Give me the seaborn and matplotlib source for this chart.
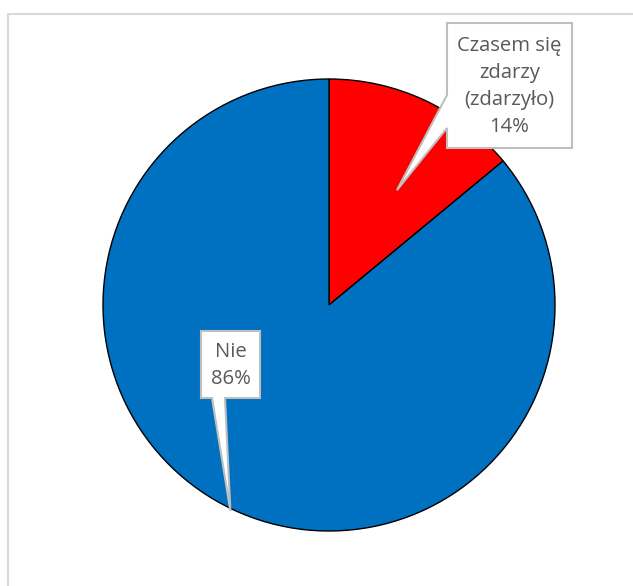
import numpy as np
import matplotlib
matplotlib.use("Agg")
import matplotlib.pyplot as plt
from matplotlib.patches import Polygon
from matplotlib.lines import Line2D
import seaborn as sns

# data
labels = ["Czasem się\nzdarzy\n(zdarzyło)", "Nie"]
values = [14, 86]
colors = ["#FF0000", "#0070C0"]

# callout layout (pixel coords of box centre, box size, pointer tip radius / angle shift)
box_centres = [(509.5, 85.5), (230.5, 364.5)]
box_sizes = [(125, 125), (59, 67)]
tip_radius = [0.59, 1.01]
tip_shift = [-5.4, -0.4]

sns.set_theme(style="white")
plt.rcParams["font.family"] = ["Open Sans", "DejaVu Sans"]

W, H = 633, 586
cx, cy, R = 329, 305, 226
fig = plt.figure(figsize=(W / 100, H / 100), dpi=100)
ax = fig.add_axes([0, 0, 1, 1])


def px(x, y):
    # pixel -> data (pie radius = 1)
    return ((x - cx) / R, (cy - y) / R)


wedges, _ = ax.pie(values, colors=colors, startangle=90, counterclock=False,
                   radius=1, wedgeprops=dict(edgecolor="black", linewidth=1.0))
ax.set_aspect("auto")
ax.set_xlim(-cx / R, (W - cx) / R)
ax.set_ylim((cy - H) / R, cy / R)
ax.axis("off")

# chart border (top + left visible)
fig.add_artist(Line2D([8 / W, 8 / W], [0, 1 - 14 / H], transform=fig.transFigure,
                      color="#D9D9D9", lw=1.5))
fig.add_artist(Line2D([8 / W, 1], [1 - 14 / H, 1 - 14 / H], transform=fig.transFigure,
                      color="#D9D9D9", lw=1.5))

total = sum(values)
for i, w in enumerate(wedges):
    mid = np.deg2rad((w.theta1 + w.theta2) / 2 + tip_shift[i])
    tip = (tip_radius[i] * np.cos(mid), tip_radius[i] * np.sin(mid))
    bx, by = box_centres[i]
    bw, bh = box_sizes[i]
    l, r, t, b = bx - bw / 2, bx + bw / 2, by - bh / 2, by + bh / 2
    if i == 0:
        # pointer out of the left edge
        pts = [px(l, t), px(r, t), px(r, b), px(l, b), px(l, b - 20), tip, px(l, b - 53)]
    else:
        # pointer out of the bottom edge
        pts = [px(l, t), px(r, t), px(r, b), px(l + 24, b), tip, px(l + 11, b), px(l, b)]
    ax.add_patch(Polygon(pts, closed=True, facecolor="white", edgecolor="#BFBFBF",
                         linewidth=1.5, zorder=5))
    pct = round(values[i] / total * 100)
    ax.text(*px(bx, by + 1), f"{labels[i]}\n{pct}%", ha="center", va="center",
            fontsize=14.6, color="#595959", linespacing=1.45, zorder=6)

fig.savefig("out.png", dpi=100)
